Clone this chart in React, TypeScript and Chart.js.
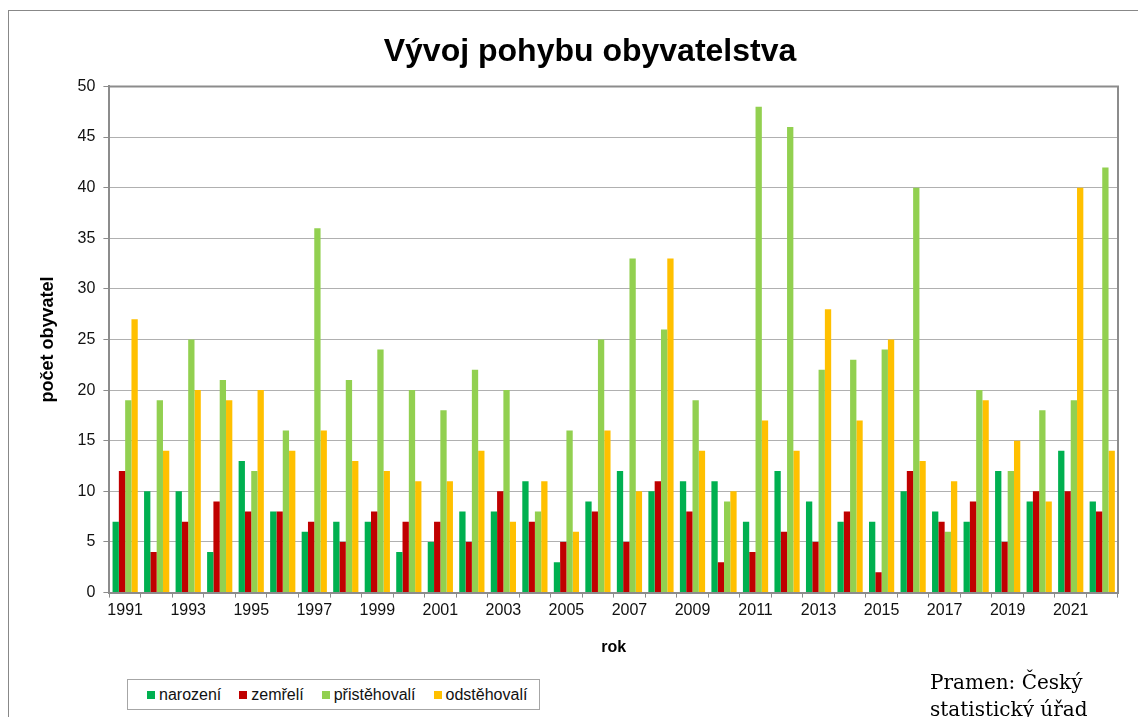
import React, { useEffect, useRef } from 'react';
import { Chart, registerables } from 'chart.js';

Chart.register(...registerables);

const chartTitle = 'Vývoj pohybu obyvatelstva';
const yAxisTitle = 'počet obyvatel';
const xAxisTitle = 'rok';
const sourceLines = ['Pramen: Český', 'statistický úřad'];

const years = [
  '1991', '1992', '1993', '1994', '1995', '1996', '1997', '1998',
  '1999', '2000', '2001', '2002', '2003', '2004', '2005', '2006',
  '2007', '2008', '2009', '2010', '2011', '2012', '2013', '2014',
  '2015', '2016', '2017', '2018', '2019', '2020', '2021', '2022',
];

const narozeni = [7, 10, 10, 4, 13, 8, 6, 7, 7, 4, 5, 8, 8, 11, 3, 9, 12, 10, 11, 11, 7, 12, 9, 7, 7, 10, 8, 7, 12, 9, 14, 9];
const zemreli = [12, 4, 7, 9, 8, 8, 7, 5, 8, 7, 7, 5, 10, 7, 5, 8, 5, 11, 8, 3, 4, 6, 5, 8, 2, 12, 7, 9, 5, 10, 10, 8];
const pristehovali = [19, 19, 25, 21, 12, 16, 36, 21, 24, 20, 18, 22, 20, 8, 16, 25, 33, 26, 19, 9, 48, 46, 22, 23, 24, 40, 6, 20, 12, 18, 19, 42];
const odstehovali = [27, 14, 20, 19, 20, 14, 16, 13, 12, 11, 11, 14, 7, 11, 6, 16, 10, 33, 14, 10, 17, 14, 28, 17, 25, 13, 11, 19, 15, 9, 40, 14];

const seriesNames = ['narození', 'zemřelí', 'přistěhovalí', 'odstěhovalí'];
const seriesColors = ['#00B050', '#C00000', '#92D050', '#FFC000'];
const seriesValues = [narozeni, zemreli, pristehovali, odstehovali];

const yMin = 0;
const yMax = 50;
const yStep = 5;

const FONT = "'Liberation Sans', Arial, sans-serif";

const titleShift = {
  id: 'titleShift',
  afterLayout(chart: any) {
    const tb = chart.titleBlock;
    if (tb) {
      tb.left = 175;
      tb.right = 1005;
    }
  },
};

const plotBorder = {
  id: 'plotBorder',
  afterDraw(chart: any) {
    const { ctx, chartArea: a } = chart;
    ctx.save();
    ctx.strokeStyle = '#8c8c8c';
    ctx.lineWidth = 2;
    ctx.beginPath();
    ctx.moveTo(a.left, a.top);
    ctx.lineTo(a.right, a.top);
    ctx.lineTo(a.right, a.bottom);
    ctx.stroke();
    ctx.restore();
  },
};

export default function App() {
  const canvasRef = useRef<HTMLCanvasElement | null>(null);

  useEffect(() => {
    if (!canvasRef.current) return;
    const chart = new Chart(canvasRef.current, {
      type: 'bar',
      data: {
        labels: years,
        datasets: seriesNames.map((name, i) => ({
          label: name,
          data: seriesValues[i],
          backgroundColor: seriesColors[i],
          borderWidth: 0,
          barPercentage: 1,
          categoryPercentage: 0.8,
        })),
      },
      options: {
        responsive: false,
        animation: false,
        devicePixelRatio: 1,
        layout: { padding: { top: 10, left: 33, right: 20, bottom: 56 } },
        plugins: {
          legend: { display: false },
          tooltip: { enabled: false },
          title: {
            display: true,
            text: chartTitle,
            color: '#000',
            font: { family: FONT, size: 32, weight: 'bold' },
            padding: { top: 23, bottom: 15 },
          },
        },
        scales: {
          x: {
            offset: true,
            grid: {
              display: true,
              offset: true,
              drawOnChartArea: false,
              drawTicks: true,
              tickLength: 5,
              color: '#8c8c8c',
            },
            border: { display: true, color: '#8c8c8c', width: 2 },
            ticks: {
              autoSkip: false,
              maxRotation: 0,
              minRotation: 0,
              padding: 3,
              color: '#111',
              font: { family: FONT, size: 16 },
              callback: (_v: any, index: number) => (index % 2 === 0 ? years[index] : ''),
            },
            title: {
              display: true,
              text: xAxisTitle,
              color: '#000',
              font: { family: FONT, size: 16, weight: 'bold' },
              padding: { top: 15, bottom: 4 },
            },
          },
          y: {
            min: yMin,
            max: yMax,
            grid: {
              color: '#b0b0b0',
              lineWidth: 1,
              tickLength: 6,
              tickColor: '#8c8c8c',
            },
            border: { display: true, color: '#8c8c8c', width: 2 },
            ticks: {
              stepSize: yStep,
              padding: 8,
              color: '#111',
              font: { family: FONT, size: 16 },
            },
            title: {
              display: true,
              text: yAxisTitle,
              color: '#000',
              font: { family: FONT, size: 18, weight: 'bold' },
              padding: { top: 4, bottom: 11 },
            },
          },
        },
      },
      plugins: [titleShift, plotBorder],
    });
    return () => chart.destroy();
  }, []);

  return (
    <div style={{ position: 'fixed', left: 0, top: 0, width: 1138, height: 717, background: '#fff', overflow: 'hidden' }}>
      <div
        style={{
          position: 'absolute',
          left: 8,
          top: 10,
          width: 1140,
          height: 720,
          borderTop: '1px solid #888',
          borderLeft: '1px solid #888',
        }}
      />
      <canvas ref={canvasRef} width={1138} height={717} style={{ position: 'absolute', left: 0, top: 0, display: 'block' }} />
      <div
        style={{
          position: 'absolute',
          left: 127,
          top: 679,
          width: 413,
          height: 31,
          boxSizing: 'border-box',
          border: '1px solid #a6a6a6',
          background: '#fff',
          display: 'flex',
          alignItems: 'center',
          paddingLeft: 19,
          fontFamily: FONT,
          fontSize: 16,
          color: '#111',
          whiteSpace: 'nowrap',
        }}
      >
        {seriesNames.map((name, i) => (
          <div key={name} style={{ display: 'flex', alignItems: 'center', marginRight: 18 }}>
            <span style={{ display: 'inline-block', width: 8, height: 8, background: seriesColors[i], marginRight: 4 }} />
            <span>{name}</span>
          </div>
        ))}
      </div>
      <div
        style={{
          position: 'absolute',
          left: 930,
          top: 669,
          fontFamily: "'DejaVu Serif', serif",
          fontSize: 20,
          lineHeight: '27px',
          color: '#000',
          whiteSpace: 'nowrap',
        }}
      >
        {sourceLines.map((l) => (
          <div key={l}>{l}</div>
        ))}
      </div>
    </div>
  );
}
